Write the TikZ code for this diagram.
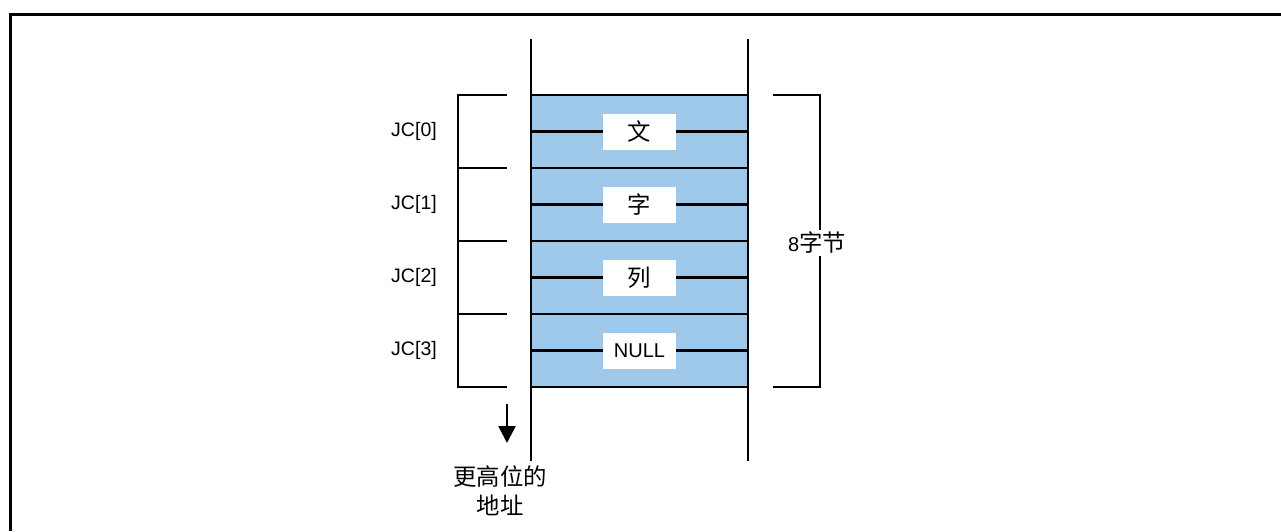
\documentclass[tikz,border=0pt]{standalone}
\usepackage{fontspec}
\setmainfont{Liberation Sans}
\newfontfamily\cjk[Scale=1.17]{Noto Sans CJK SC}
\usetikzlibrary{arrows.meta,positioning}
\definecolor{cell}{HTML}{9FC9EA}
\definecolor{ink}{HTML}{000000}

\tikzset{
  wall/.style={ink,line width=2.2pt},
  brace/.style={ink,line width=2pt},
  cellbox/.style={fill=white,minimum width=73pt,minimum height=36pt,inner sep=0pt,font=\fontsize{20}{24}\selectfont},
  jclabel/.style={font=\fontsize{19.5}{24}\selectfont,inner sep=0pt}
}

\begin{document}
\begin{tikzpicture}[x=1pt,y=-1pt]
  \useasboundingbox (0,0) rectangle (1281,531);

  % Frame (top and left edges only show)
  \draw[line width=3pt] (10.5,531) |- (1281,14.5);

  % The memory column
  \fill[cell] (531,95) rectangle (748,387);
  \foreach \k in {0,...,8} {
    \draw[wall] (531,{95+36.5*\k}) -- (748,{95+36.5*\k});
  }
  \draw[wall] (531,39) -- (531,461);
  \draw[wall] (748,39) -- (748,461);

  % Characters and their indices
  \foreach \i/\lab in {0/{\cjk 文}, 1/{\cjk 字}, 2/{\cjk 列}, 3/NULL} {
    \node[cellbox] (c\i) at (639.5,{131.5+73*\i}) {\lab};
    \node[jclabel] (jc\i) at (414,{131+73*\i}) {JC[\i]};
  }

  % Left bracket
  \coordinate (lt) at (507,95);
  \coordinate (lb) at (507,387);
  \draw[brace] (lt) -- (458,95) -- (458,387) -- (lb);
  \foreach \y in {168,241,314} {
    \draw[brace] (458,\y) -- (507,\y);
  }

  % Right bracket with size
  \coordinate (rt) at (773,95);
  \coordinate (rb) at (773,387);
  \draw[brace] (rt) -- (820,95) -- (820,387) -- (rb);
  \node[fill=white,inner sep=2pt,font=\fontsize{20}{24}\selectfont] (size) at (817,243) {8{\cjk 字节}};

  % Direction of higher addresses
  \coordinate (a1) at (507,404);
  \coordinate (a2) at (507,443);
  \draw[ink,line width=2.6pt,-{Triangle[length=17pt,width=17pt]}] (a1) -- (a2);
  \node[align=center,inner sep=0pt,font={\fontsize{20}{29}\selectfont\cjk}] (addr) at (500,491) {更高位的\\地址};
\end{tikzpicture}
\end{document}
